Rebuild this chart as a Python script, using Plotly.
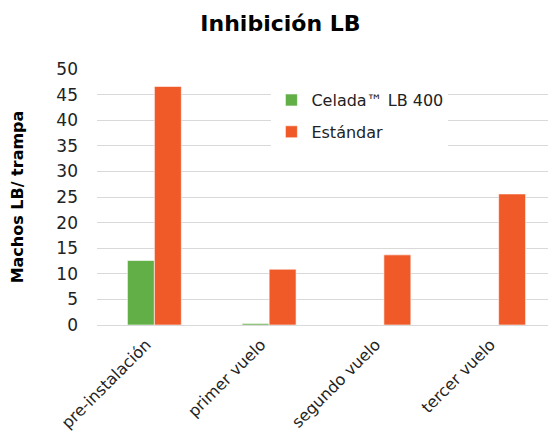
import plotly.graph_objects as go

categories = ["pre-instalación", "primer vuelo", "segundo vuelo", "tercer vuelo"]
celada = [12.6, 0.3, 0, 0]
estandar = [46.6, 10.9, 13.7, 25.6]
series_names = ["Celada™ LB 400", "Estándar"]
colors = ["#62AE47", "#F05A28"]

fig = go.Figure()
for i, (name, vals) in enumerate(zip(series_names, [celada, estandar])):
    fig.add_trace(go.Bar(
        x=categories, y=vals, name=name, legendgroup=name,
        marker=dict(color=colors[i], line=dict(color="rgba(255,255,255,0.6)", width=1)),
    ))

font_family = "DejaVu Sans, Verdana, sans-serif"
fig.update_layout(
    width=556, height=434,
    margin=dict(l=89, r=8, t=61, b=117, autoexpand=False),
    paper_bgcolor="white", plot_bgcolor="white",
    barmode="group", bargap=0.53, bargroupgap=0,
    font=dict(family=font_family, size=16, color="#222"),
    title=dict(text="<b>Inhibición LB</b>", x=0.49, xanchor="center", y=0.965, yanchor="middle",
               font=dict(size=22, color="black", family=font_family)),
    legend=dict(x=0.38, y=0.945, xanchor="left", yanchor="top", bgcolor="white",
                font=dict(size=16, color="#222"), tracegroupgap=8, traceorder="grouped",
                itemwidth=30),
    showlegend=True,
)
fig.update_yaxes(range=[0, 50], dtick=5, showgrid=True, gridcolor="#d9d9d9", gridwidth=1,
                 zeroline=True, zerolinecolor="#d9d9d9", zerolinewidth=1, automargin=False,
                 ticks="", tickfont=dict(size=17, color="#222"), ticklabelstandoff=18,
                 title=dict(text="<b>Machos LB/ trampa</b>", font=dict(size=16, color="black"), standoff=32))
fig.update_xaxes(showline=True, linecolor="#d9d9d9", tickangle=-45, automargin=False,
                 tickfont=dict(size=16, color="#222"), ticks="", ticklabelshift=-8,
                 ticklabelstandoff=3)

fig.write_html("out.html")
